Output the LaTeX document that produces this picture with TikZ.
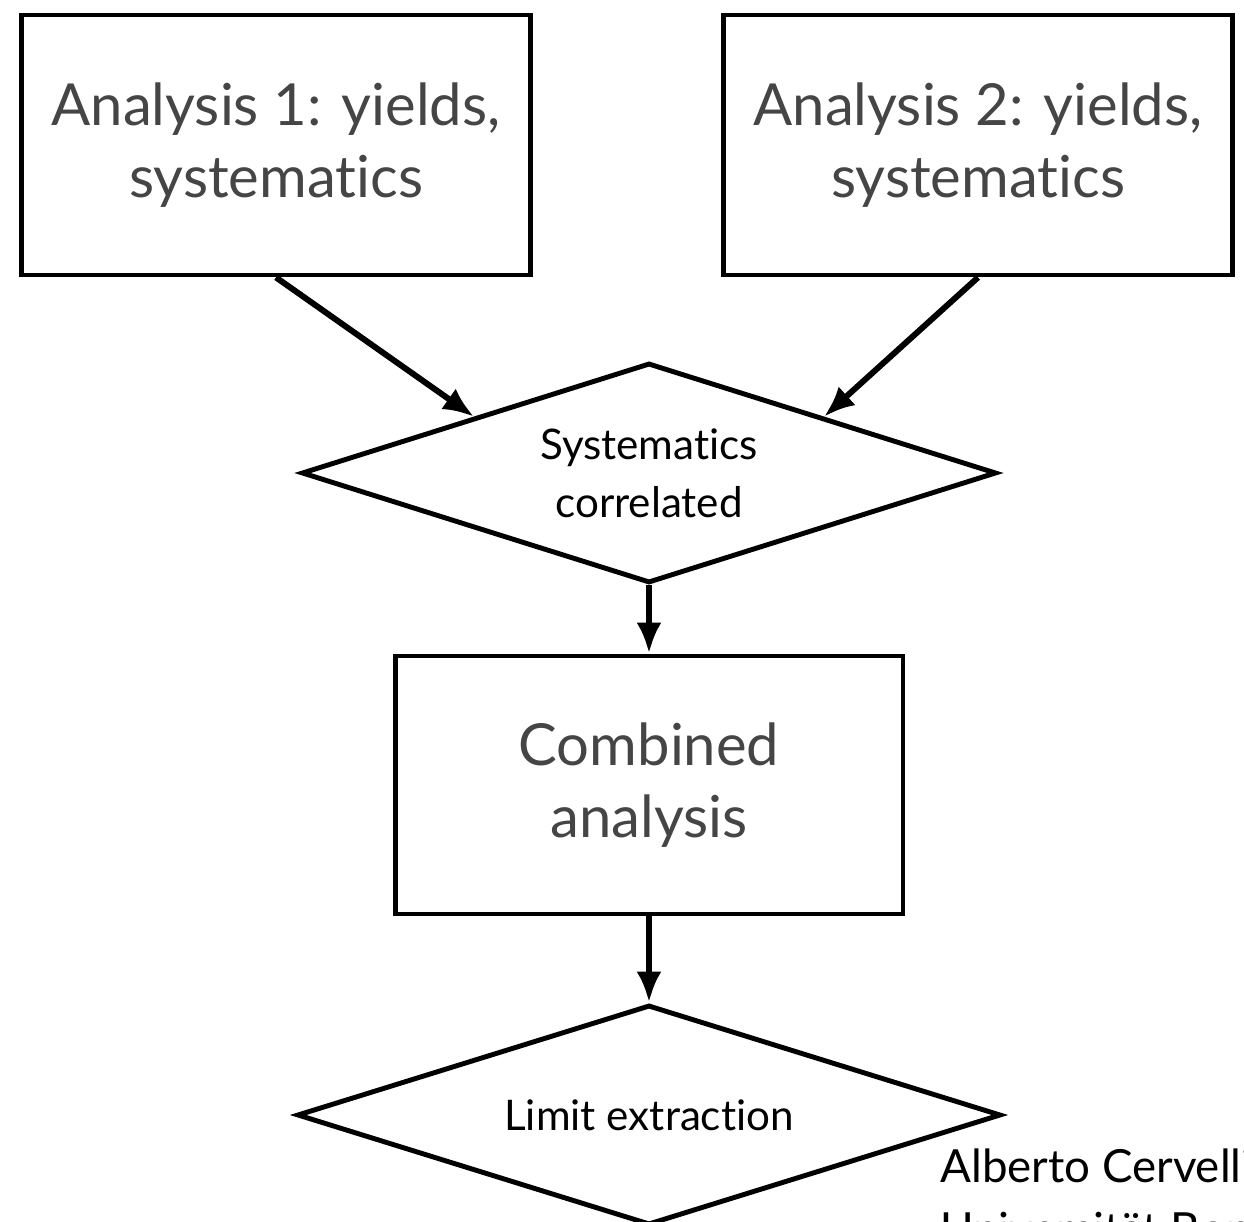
\documentclass[tikz,border=0pt]{standalone}
\usepackage{fontspec}
\setmainfont[Ligatures=NoCommon]{Lato}
\usepackage{tikz}
\usetikzlibrary{arrows.meta,shapes.geometric,positioning}
\definecolor{boxtext}{HTML}{454545}

\begin{document}
\begin{tikzpicture}[x=0.02cm, y=-0.02cm, >={Latex[length=0.62cm,width=0.5cm]}]
    \tikzstyle{every node} = [font=\fontsize{24}{33}\selectfont]
    \tikzstyle{textbox} = [align=center, draw, line width=2.8pt, inner sep=0pt]
    \tikzstyle{block} = [textbox, rectangle, text=boxtext, font=\fontsize{33}{41}\selectfont]
    \tikzstyle{decision} = [textbox, diamond, aspect=3.15, minimum width=13.9cm, minimum height=4.4cm]
    \tikzstyle{link} = [->, line width=3.4pt]

    \useasboundingbox (0,0) rectangle (1244,1222);
    \clip (0,0) rectangle (1244,1222);

    \node (ana1) [block, minimum width=10.18cm, minimum height=5.2cm] at (276,145) {Analysis 1: yields,\\ systematics};
    \node (ana2) [block, minimum width=10.18cm, minimum height=5.2cm] at (978,145) {Analysis 2: yields,\\ systematics};
    \node (syst) [decision] at (649,473) {Systematics\\ correlated};
    \node (comb) [block, minimum width=10.16cm, minimum height=5.16cm] at (649,785) {Combined\\ analysis};
    \node (limit) [decision, minimum width=14.08cm] at (649,1115) {Limit extraction};
    \node (author) [anchor=north west, align=left, inner sep=0pt, font=\fontsize{26}{36}\selectfont] at (940,1148) {Alberto Cervelli\\ Universität Bonn};

    \draw [link] (ana1.south) -- (syst.north west);
    \draw [link] (ana2.south) -- (syst.north east);
    \draw [link] (syst.south) -- (comb.north);
    \draw [link] (comb.south) -- (limit.north);
\end{tikzpicture}
\end{document}
